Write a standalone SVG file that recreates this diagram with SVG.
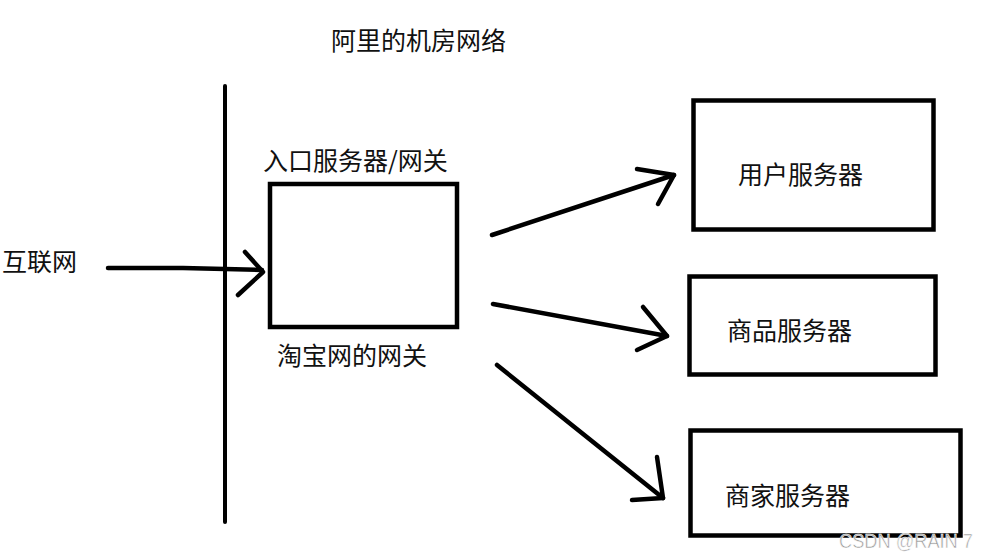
<svg xmlns="http://www.w3.org/2000/svg" width="989" height="558" viewBox="0 0 989 558">
<style>
.t{font-family:"Noto Sans CJK SC","Liberation Sans",sans-serif;font-size:25px;fill:#111}
.box{fill:#fff;stroke:#000;stroke-width:4.5}
.c{fill:none;stroke:#000;stroke-width:4.5;stroke-linecap:round;stroke-linejoin:round}
.wm{font-family:"Liberation Sans",Arial,sans-serif;font-size:20px;fill:#9a9a9a;stroke:#fff;stroke-width:0.6}
</style>
<rect width="989" height="558" fill="#fff"/>
<text class="t" x="331" y="50">阿里的机房网络</text>
<line x1="225" y1="86" x2="225" y2="522" stroke="#000" stroke-width="4" stroke-linecap="round"/>
<g id="internet"><text class="t" x="2" y="271">互联网</text></g>
<g id="gateway">
<rect class="box" x="270" y="184" width="187" height="143"/>
<text class="t" x="263" y="170">入口服务器/网关</text>
<text class="t" x="277" y="365">淘宝网的网关</text>
</g>
<g id="user-server">
<rect class="box" x="693.5" y="100.5" width="240" height="129"/>
<text class="t" x="738" y="184">用户服务器</text>
</g>
<g id="product-server">
<rect class="box" x="689.5" y="276.5" width="246" height="98"/>
<text class="t" x="727" y="340">商品服务器</text>
</g>
<g id="merchant-server">
<rect class="box" x="690.5" y="430.5" width="270" height="105"/>
<text class="t" x="725" y="505">商家服务器</text>
</g>
<g id="connectors">
<polyline class="c" points="108,268 183,268 262,270"/>
<polyline class="c" points="245,252 263,272 238,295"/>
<line class="c" x1="492" y1="235" x2="674" y2="175"/>
<polyline class="c" points="637,169 674,175 658,204"/>
<line class="c" x1="493" y1="304" x2="667" y2="336"/>
<polyline class="c" points="643,307 667,336 637,350"/>
<line class="c" x1="497" y1="365" x2="663" y2="498"/>
<polyline class="c" points="657,457 663,498 632,500"/>
</g>
<text class="wm" x="839" y="548" textLength="134" lengthAdjust="spacingAndGlyphs">CSDN @RAIN 7</text>
</svg>
